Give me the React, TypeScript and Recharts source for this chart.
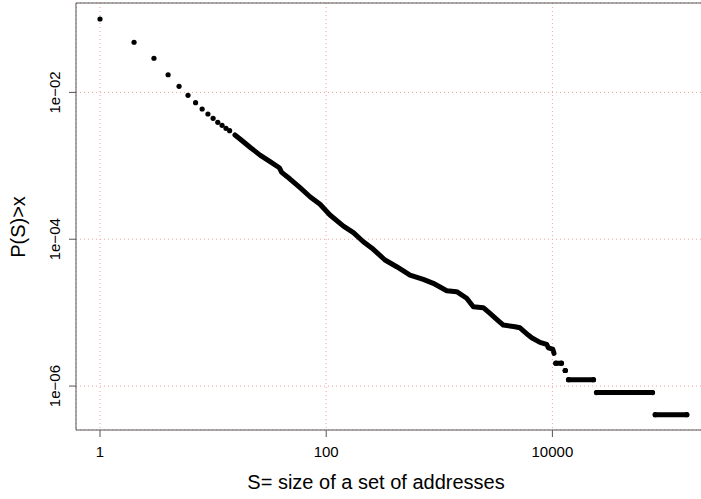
import {
  ReferenceArea,
  Scatter,
  ScatterChart,
  CartesianGrid,
  XAxis,
  YAxis,
} from "recharts";

// discrete dots at the small set sizes
const dotSizes = [1, 2, 3, 4, 5, 6, 7, 8, 9, 10, 11, 12, 13, 14];
const dotProbs = [
  0.1, 0.0482, 0.0292, 0.0174, 0.0121, 0.00913, 0.00724, 0.00594, 0.00508, 0.00444, 0.00391,
  0.00356, 0.00324, 0.00301,
];

// dense part, read as a run of points
const bodySizes = [
  15.6, 17.3, 21.2, 26, 31.9, 38.5, 40.4, 47.9, 58.7, 71.9, 88.2, 108, 142, 174, 213, 261, 331,
  420, 551, 722, 885, 1163, 1425, 1747, 1998, 2449, 2807, 3109, 3681, 4670, 5170, 6122, 6561,
  7771, 8906, 9199, 10060, 10330,
];
const bodyProbs = [
  2.63e-3, 2.32e-3, 1.79e-3, 1.4e-3, 1.14e-3, 9.42e-4, 8.15e-4, 6.61e-4, 5.03e-4, 3.79e-4,
  2.99e-4, 2.14e-4, 1.51e-4, 1.23e-4, 9.25e-5, 7.28e-5, 5.21e-5, 4.22e-5, 3.25e-5, 2.84e-5,
  2.51e-5, 1.99e-5, 1.93e-5, 1.57e-5, 1.2e-5, 1.17e-5, 9.78e-6, 8.51e-6, 6.77e-6, 6.42e-6,
  6.22e-6, 4.95e-6, 4.55e-6, 3.94e-6, 3.7e-6, 3.32e-6, 3.19e-6, 2.79e-6, 2.43e-6,
];

// flat runs in the tail
const stepFrom = [10720, 13000, 13880, 24550, 81100];
const stepTo = [12030, 13000, 23080, 76740, 154300];
const stepProbs = [2.05e-6, 1.63e-6, 1.22e-6, 8.15e-7, 4.08e-7];

const xTicks = [1, 100, 10000];
const yTicks = [1e-2, 1e-4, 1e-6];

const X_DOMAIN: [number, number] = [0.6134, 247500];
const Y_DOMAIN: [number, number] = [2.52e-7, 0.1652];
const FONT = "'Liberation Sans', Arial, Helvetica, sans-serif";
const GRID = "#f4a0a0";

const zip = (xs: number[], ys: number[]) => xs.map((s, i) => ({ s, p: ys[i] }));

const dots = zip(dotSizes, dotProbs);
const body = zip(bodySizes, bodyProbs.slice(0, bodySizes.length));
const steps = stepProbs.map((p, i) => [
  { s: stepFrom[i], p },
  { s: stepTo[i], p },
]);

const Dot = (props: any) => <circle cx={props.cx} cy={props.cy} r={2.6} fill="#000" />;
const NoDot = () => <g />;

const lineStyle = {
  stroke: "#000",
  strokeWidth: 5,
  strokeLinecap: "round",
  strokeLinejoin: "round",
  fill: "none",
};

function sci(v: number) {
  const e = Math.round(Math.log10(v));
  const abs = Math.abs(e).toString().padStart(2, "0");
  return `1e${e < 0 ? "\u2212" : "+"}${abs}`;
}

const YTick = (props: any) => {
  const { x, y, payload } = props;
  return (
    <text
      x={x}
      y={y}
      transform={`rotate(-90, ${x}, ${y})`}
      textAnchor="middle"
      fontSize={15}
      fontFamily={FONT}
      fill="#000"
    >
      {sci(payload.value)}
    </text>
  );
};

const XTitle = () => (
  <text x={376} y={489} textAnchor="middle" fontSize={20} fontFamily={FONT} fill="#000">
    S= size of a set of addresses
  </text>
);

const YTitle = () => (
  <text
    x={25}
    y={227}
    transform="rotate(-90, 25, 227)"
    textAnchor="middle"
    fontSize={20}
    fontFamily={FONT}
    fill="#000"
  >
    P(S)&gt;x
  </text>
);

export default function App() {
  return (
    <div
      style={{
        position: "absolute",
        left: 0,
        top: 0,
        width: 701,
        height: 499,
        overflow: "hidden",
        background: "#fff",
      }}
    >
      <ScatterChart width={720} height={499} margin={{ top: 3, right: 10, bottom: 0, left: 0 }}>
        <CartesianGrid stroke={GRID} strokeDasharray="1 3" />
        <XAxis
          dataKey="s"
          type="number"
          scale="log"
          domain={X_DOMAIN}
          allowDataOverflow
          ticks={xTicks}
          tickFormatter={(v: number) => String(v)}
          axisLine={false}
          tickLine={{ stroke: "#555" }}
          tickSize={7}
          tickMargin={9}
          height={69}
          tick={{ fill: "#000", fontSize: 15, fontFamily: FONT }}
          label={<XTitle />}
        />
        <YAxis
          dataKey="p"
          type="number"
          scale="log"
          domain={Y_DOMAIN}
          allowDataOverflow
          ticks={yTicks}
          axisLine={false}
          tickLine={{ stroke: "#555" }}
          tickSize={7}
          tickMargin={9}
          width={76}
          tick={<YTick />}
          label={<YTitle />}
        />
        <ReferenceArea
          x1={X_DOMAIN[0]}
          x2={X_DOMAIN[1]}
          y1={Y_DOMAIN[0]}
          y2={Y_DOMAIN[1]}
          fill="none"
          stroke="#555"
          strokeWidth={1}
          ifOverflow="visible"
        />
        <Scatter data={dots} shape={<Dot />} isAnimationActive={false} />
        <Scatter data={body} shape={<NoDot />} line={lineStyle} isAnimationActive={false} />
        {steps.map((run, i) => (
          <Scatter
            key={i}
            data={run}
            shape={<Dot />}
            line={lineStyle}
            isAnimationActive={false}
          />
        ))}
      </ScatterChart>
    </div>
  );
}
